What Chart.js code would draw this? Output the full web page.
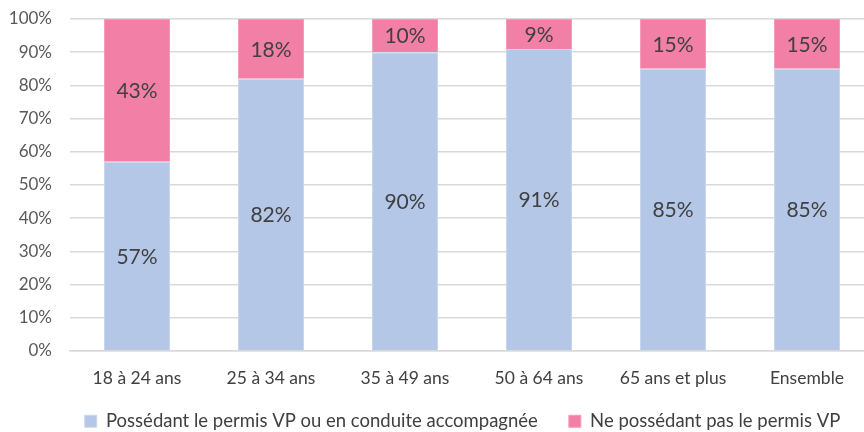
<!DOCTYPE html>
<html><head><meta charset="utf-8">
<script src="https://cdn.jsdelivr.net/npm/chart.js@4/dist/chart.umd.min.js"></script>
<style>html,body{margin:0;padding:0;overflow:hidden;background:#fff;width:864px;height:432px}#wrap{width:874px;height:432px}</style>
</head><body><div id="wrap"><canvas id="c" width="874" height="432"></canvas></div>
<script>
const categories = ['18 à 24 ans','25 à 34 ans','35 à 49 ans','50 à 64 ans','65 ans et plus','Ensemble'];
const avecPermis = [57, 82, 90, 91, 85, 85];
const sansPermis = [43, 18, 10, 9, 15, 15];
const seriesNames = ['Possédant le permis VP ou en conduite accompagnée','Ne possédant pas le permis VP'];
const yTicks = [0,10,20,30,40,50,60,70,80,90,100];
const FONT = 'Lato';
const LEGEND_PAD = 31;

const labelPlugin = {
  id:'labels',
  afterDatasetsDraw(chart){
    const ctx = chart.ctx;
    ctx.save();
    ctx.font = '21px ' + FONT;
    ctx.fillStyle = '#404040';
    ctx.textAlign = 'center';
    ctx.textBaseline = 'middle';
    chart.data.datasets.forEach((ds, di) => {
      chart.getDatasetMeta(di).data.forEach((bar, i) => {
        const yc = (bar.y + bar.base) / 2;
        ctx.fillText(ds.data[i] + '%', bar.x, yc + 1);
      });
    });
    ctx.restore();
  }
};

const legendPlace = {
  id:'legendPlace',
  beforeInit(chart){
    const lg = chart.legend;
    const orig = lg.fit;
    lg.fit = function(){ orig.call(this); this.height = 36; };
  },
  afterLayout(chart){
    const lg = chart.legend;
    lg.top = 412 - LEGEND_PAD; lg.bottom = 432;
    lg.left = 25; lg.right = 900;
  }
};

new Chart(document.getElementById('c'), {
  type:'bar',
  data:{
    labels:categories,
    datasets:[
      {label:seriesNames[0], data:avecPermis, backgroundColor:'#B4C7E7', borderColor:'#C9D7EE', borderWidth:1, categoryPercentage:1, barPercentage:0.493},
      {label:seriesNames[1], data:sansPermis, backgroundColor:'#F280A6', borderColor:'#F49BB9', borderWidth:1, categoryPercentage:1, barPercentage:0.493}
    ]
  },
  options:{
    responsive:false, animation:false, devicePixelRatio:1,
    layout:{padding:{top:19,left:0,right:0,bottom:0}},
    plugins:{
      legend:{position:'bottom', labels:{font:{family:FONT,size:18.5}, color:'#404040', boxWidth:12, boxHeight:12, padding:LEGEND_PAD}},
      tooltip:{enabled:false}
    },
    scales:{
      x:{stacked:true, grid:{display:false, drawTicks:false}, border:{color:'#D9D9D9', width:1.5},
         afterFit(s){s.height=45;},
         ticks:{font:{family:FONT,size:17.5}, color:'#404040', padding:17}},
      y:{stacked:true, min:0, max:100,
         afterFit(s){s.width=70; s.paddingTop=0; s.paddingBottom=0;},
         afterBuildTicks(s){s.ticks = yTicks.map(v=>({value:v}));},
         grid:{color:'#D9D9D9', lineWidth:1.5, drawTicks:false}, border:{display:false},
         ticks:{font:{family:FONT,size:17}, color:'#595959', padding:18, callback:v=>v+'%'}}
    }
  },
  plugins:[labelPlugin, legendPlace]
});
</script></body></html>
